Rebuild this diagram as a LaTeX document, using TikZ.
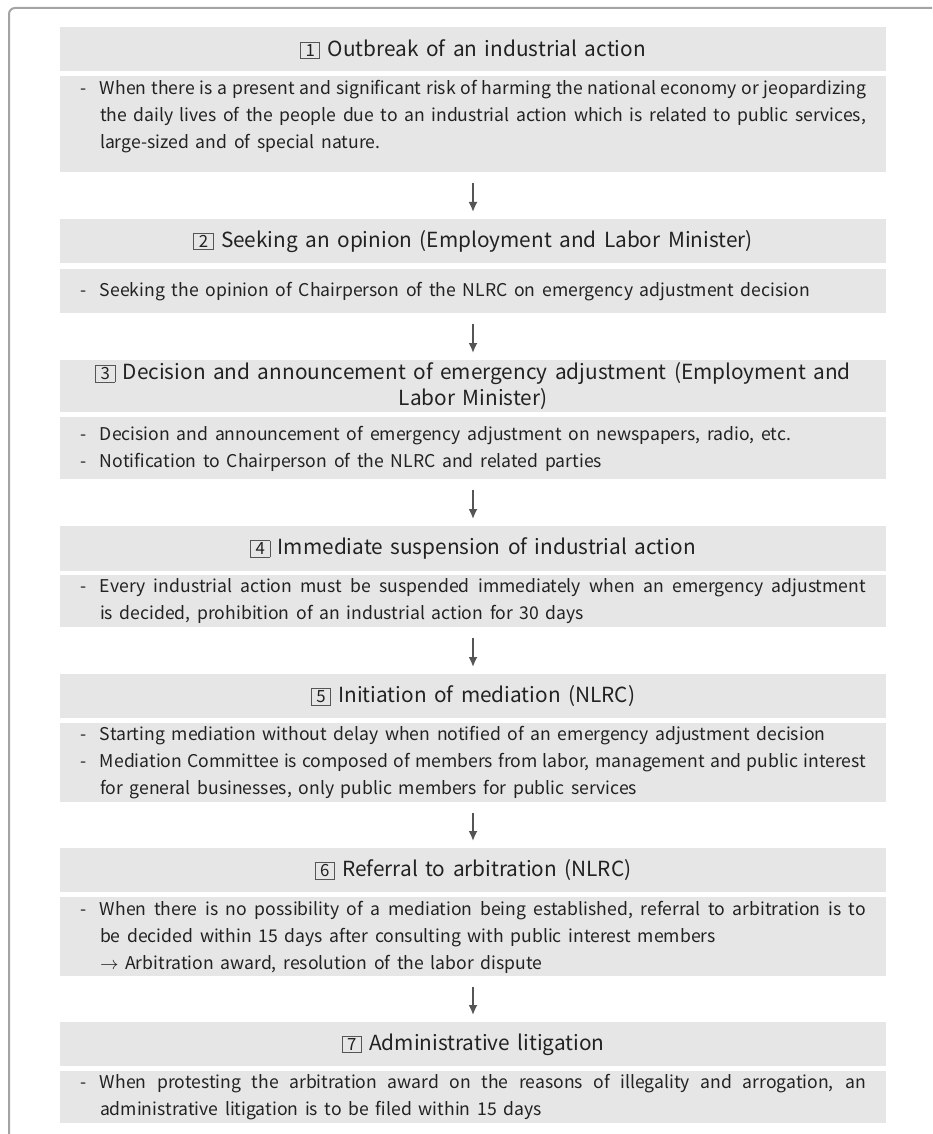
\documentclass[tikz,border=0pt]{standalone}
\usepackage{fontspec}
\setmainfont{Noto Sans CJK KR}
\usetikzlibrary{arrows.meta,positioning}

\definecolor{boxgray}{HTML}{E6E6E6}
\definecolor{textgray}{HTML}{222222}
\definecolor{arrowgray}{HTML}{555555}
\definecolor{framegray}{HTML}{A4A4A4}

% framed step number
\newcommand{\stepno}[1]{{\fboxsep=0.9pt\fboxrule=0.4pt\fcolorbox{arrowgray}{boxgray}{\fontsize{8.4}{9}\selectfont\,#1\,}}\ }
% dash item with hanging indent
\newcommand{\dashitem}[1]{\hangindent=10pt\hangafter=1\noindent\makebox[10pt][l]{-}#1\par}
% wider word spaces
\newcommand{\widetitlespace}{\fontsize{10.4}{13}\selectfont\spaceskip=0.36em\relax}
\newcommand{\widebodyspace}{\fontsize{8.8}{13.5}\selectfont\spaceskip=0.38em plus 0.3em minus 0.22em\relax\hyphenpenalty=10000\relax}

\tikzset{
    titlebox/.style={
        fill=boxgray,
        text=textgray,
        anchor=north,
        minimum width=413pt,
        text width=400pt,
        inner xsep=6.5pt,
        inner ysep=0pt,
        align=center,
        font=\fontsize{10.4}{13}\selectfont,
        execute at begin node=\widetitlespace
    },
    bodybox/.style={
        fill=boxgray,
        text=textgray,
        anchor=north,
        minimum width=413pt,
        text width=393pt,
        inner xsep=10pt,
        inner ysep=0pt,
        align=justify,
        font=\fontsize{8.8}{13.5}\selectfont,
        execute at begin node=\widebodyspace
    },
    flowarrow/.style={
        draw=arrowgray,
        line width=0.9pt,
        -{Latex[length=5pt,width=4.5pt]},
        shorten <=5pt,
        shorten >=3.5pt
    }
}

\begin{document}
\begin{tikzpicture}[x=0.5pt,y=-0.5pt]
    \useasboundingbox (0,0) rectangle (932,1134);
    % Outer frame
    \draw[framegray, line width=1pt, rounded corners=3pt] (9,1134) -- (9,8) -- (932,8);

    % Step 1
    \node[titlebox, minimum height=22pt] (Title-1) at (473,27)
        {\stepno{1}Outbreak of an industrial action};
    \node[bodybox, minimum height=48pt] (Body-1) at (473,76) {%
        \dashitem{When there is a present and significant risk of harming the national economy or jeopardizing \linebreak the daily lives of the people due to an industrial action which is related to public services, \linebreak large-sized and of special nature.}
        \kern8pt\nointerlineskip\null};

    % Step 2
    \node[titlebox, minimum height=22pt] (Title-2) at (473,219)
        {\stepno{2}Seeking an opinion (Employment and Labor Minister)};
    \node[bodybox, minimum height=22pt] (Body-2) at (473,269) {%
        \dashitem{Seeking the opinion of Chairperson of the NLRC on emergency adjustment decision}};

    % Step 3
    \node[titlebox, minimum height=26pt] (Title-3) at (473,360)
        {\stepno{3}Decision and announcement of emergency adjustment (Employment and\\Labor Minister)};
    \node[bodybox, minimum height=31pt] (Body-3) at (473,417) {%
        \dashitem{Decision and announcement of emergency adjustment on newspapers, radio, etc.}
        \dashitem{Notification to Chairperson of the NLRC and related parties}};

    % Step 4
    \node[titlebox, minimum height=22.5pt] (Title-4) at (473,526)
        {\stepno{4}Immediate suspension of industrial action};
    \node[bodybox, minimum height=26pt] (Body-4) at (473,575) {%
        \dashitem{Every industrial action must be suspended immediately when an emergency adjustment \linebreak is decided, prohibition of an industrial action for 30 days}};

    % Step 5
    \node[titlebox, minimum height=22pt] (Title-5) at (473,674)
        {\stepno{5}Initiation of mediation (NLRC)};
    \node[bodybox, minimum height=39.5pt] (Body-5) at (473,723) {%
        \dashitem{Starting mediation without delay when notified of an emergency adjustment decision}
        \dashitem{Mediation Committee is composed of members from labor, management and public interest \linebreak for general businesses, only public members for public services}};

    % Step 6
    \node[titlebox, minimum height=22pt] (Title-6) at (473,848)
        {\stepno{6}Referral to arbitration (NLRC)};
    \node[bodybox, minimum height=39.5pt] (Body-6) at (473,897) {%
        \dashitem{When there is no possibility of a mediation being established, referral to arbitration is to \linebreak be decided within 15 days after consulting with public interest members}
        \noindent\hspace*{10pt}$\rightarrow$ Arbitration award, resolution of the labor dispute\par};

    % Step 7
    \node[titlebox, minimum height=22pt] (Title-7) at (473,1022)
        {\stepno{7}Administrative litigation};
    \node[bodybox, minimum height=26pt] (Body-7) at (473,1071) {%
        \dashitem{When protesting the arbitration award on the reasons of illegality and arrogation, an \linebreak administrative litigation is to be filed within 15 days}};

    % Connect steps
    \foreach \i in {2,...,7} {
        \pgfmathtruncatemacro{\prev}{\i-1}
        \draw[flowarrow] (Body-\prev.south) -- (Title-\i.north);
    }
\end{tikzpicture}
\end{document}
